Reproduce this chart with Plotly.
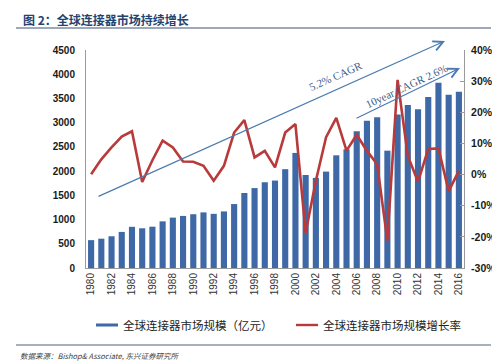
import plotly.graph_objects as go

years = list(range(1980, 2017))
market_size = [575, 605, 655, 745, 850, 820, 853, 963, 1040, 1075,
               1110, 1148, 1118, 1168, 1320, 1548, 1650, 1770, 1805, 2040,
               2375, 1920, 1860, 1990, 2326, 2450, 2822, 3041, 3110, 2422,
               3166, 3365, 3275, 3528, 3825, 3578, 3640]
growth_pct = [0.1, 4.9, 8.7, 12.2, 13.9, -2.4, 4.6, 10.9, 8.7, 4.2,
              4.1, 2.8, -2.0, 2.8, 13.5, 17.5, 5.5, 7.6, 2.3, 13.5,
              16.2, -18.7, -2.0, 12.0, 18.2, 7.7, 12.8, 7.6, 3.3, -21.2,
              30.4, 6.0, -2.3, 8.2, 8.4, -5.3, 1.2]
x_tick_years = years[::2]
left_ticks = list(range(0, 4501, 500))
right_ticks = list(range(-30, 41, 10))

title_text = "图 2：全球连接器市场持续增长"
legend_bar = "全球连接器市场规模（亿元）"
legend_line = "全球连接器市场规模增长率"
source_text = "<i>数据来源：Bishop& Associate, 东兴证券研究所</i>"
cagr_all = "5.2% CAGR"
cagr_10 = "10year CAGR 2.6%"

W, H = 500, 361
L, R, T, B = 78, 44, 42, 101
PW, PH = W - L - R, H - T - B


def px(x):
    return (x - L) / PW


def py(y):
    return (H - B - y) / PH


BAR = "#3e69a6"
RED = "#b83a3b"
ARROW = "#4a7bb0"
CJK = "Noto Sans CJK SC"

fig = go.Figure()
fig.add_trace(go.Bar(x=years, y=market_size, marker_color=BAR, marker_line_width=0,
                     name=legend_bar, showlegend=False, yaxis="y"))
fig.add_trace(go.Scatter(x=years, y=growth_pct, mode="lines", line=dict(color=RED, width=2.6),
                         name=legend_line, showlegend=False, yaxis="y2"))

fig.update_layout(
    width=W, height=H,
    margin=dict(l=L, r=R, t=T, b=B),
    paper_bgcolor="white", plot_bgcolor="white",
    bargap=0.4,
    title=dict(text=title_text, x=15 / W, y=1 - 12.5 / H, xanchor="left", yanchor="middle",
               font=dict(family=CJK, size=12, color="#24436f", weight="bold")),
    xaxis=dict(range=[1979.5, 2016.5], tickmode="array", tickvals=x_tick_years,
               ticktext=[str(v) for v in x_tick_years], tickangle=-90,
               tickfont=dict(family="Liberation Sans", size=10, color="#333333"),
               showline=True, linecolor="#9a9a9a", linewidth=1, ticks="", showgrid=False,
               zeroline=False),
    yaxis=dict(range=[0, 4500], tickmode="array", tickvals=left_ticks,
               tickfont=dict(family="Liberation Sans", size=10, color="#1a1a1a", weight="bold"),
               showline=True, linecolor="#9a9a9a", linewidth=1, showgrid=False,
               zeroline=False, ticks="", ticklabelstandoff=8),
    yaxis2=dict(range=[-30, 40], tickmode="array", tickvals=right_ticks,
                ticktext=[f"{v}%" for v in right_ticks], overlaying="y", side="right",
                tickfont=dict(family="Liberation Sans", size=10.5, color="#1a1a1a", weight="bold"),
                showline=True, linecolor="#9a9a9a", linewidth=1, showgrid=False,
                zeroline=False, ticks="inside", ticklen=4, tickcolor="#9a9a9a",
                ticklabelstandoff=4),
)

shapes = [
    dict(type="line", xref="paper", yref="paper", x0=px(8), x1=px(483), y0=py(20), y1=py(20),
         line=dict(color="#7d8ca3", width=1.6)),
    dict(type="line", xref="paper", yref="paper", x0=px(8), x1=px(483), y0=py(337), y1=py(337),
         line=dict(color="#8a97a8", width=1.4)),
    dict(type="rect", xref="paper", yref="paper", x0=px(88), x1=px(110), y0=py(318.5), y1=py(315.5),
         fillcolor=BAR, line=dict(width=0)),
    dict(type="rect", xref="paper", yref="paper", x0=px(288), x1=px(310), y0=py(318.2), y1=py(315.8),
         fillcolor=RED, line=dict(width=0)),
]
fig.update_layout(shapes=shapes)

xpx = PW / 37.0
ypx = PH / 4500.0


def dx(p):
    return 1979.5 + (p - L) / xpx


def dy(p):
    return (H - B - p) / ypx


annotations = [
    dict(xref="paper", yref="paper", x=px(113), y=py(317), text=legend_bar, showarrow=False,
         xanchor="left", yanchor="middle", font=dict(family=CJK, size=11.5, color="#222222")),
    dict(xref="paper", yref="paper", x=px(313), y=py(317), text=legend_line, showarrow=False,
         xanchor="left", yanchor="middle", font=dict(family=CJK, size=11.5, color="#222222")),
    dict(xref="paper", yref="paper", x=px(10), y=py(347), text=source_text, showarrow=False,
         xanchor="left", yanchor="middle", font=dict(family=CJK, size=7.5, color="#444444")),
    # arrows
    dict(x=dx(437), y=dy(33), ax=dx(89), ay=dy(189), xref="x", yref="y", axref="x", ayref="y",
         text="", showarrow=True, arrowhead=5, arrowsize=1.6, arrowwidth=1.2, arrowcolor=ARROW),
    dict(x=dx(452), y=dy(60), ax=dx(347), ay=dy(111), xref="x", yref="y", axref="x", ayref="y",
         text="", showarrow=True, arrowhead=5, arrowsize=1.6, arrowwidth=1.2, arrowcolor=ARROW),
    dict(x=dx(327.5), y=dy(67.5), xref="x", yref="y", text=cagr_all, showarrow=False,
         textangle=-24, font=dict(family="Liberation Serif", size=11, color="#3d5a85")),
    dict(x=dx(398.5), y=dy(77.5), xref="x", yref="y", text=cagr_10, showarrow=False,
         textangle=-25, font=dict(family="Liberation Serif", size=11, color="#3d5a85")),
]
fig.update_layout(annotations=annotations)

fig.write_html("out.html")
